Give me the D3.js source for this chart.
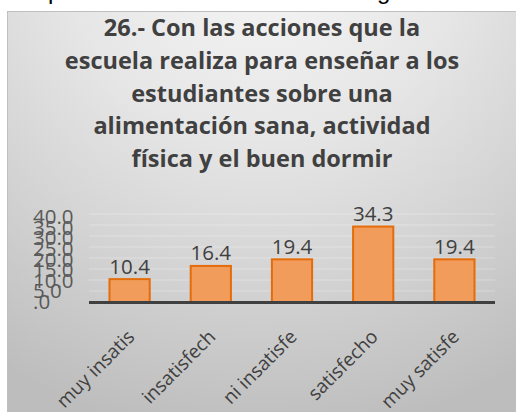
<!DOCTYPE html>
<html>
<head>
<meta charset="utf-8">
<script src="https://cdn.jsdelivr.net/npm/d3@7"></script>
<style>
  body { margin: 0; background: #fff; }
  svg { display: block; }
</style>
</head>
<body>
<div id="chart"></div>
<script>
// chart data
const titleLines = [
    '26.- Con las acciones que la',
    'escuela realiza para enseñar a los',
    'estudiantes sobre una',
    'alimentación sana, actividad',
    'física y el buen dormir'
];
const categories = ['muy insatis', 'insatisfech', 'ni insatisfe', 'satisfecho', 'muy satisfe'];
const values = [10.4, 16.4, 19.4, 34.3, 19.4];
const ticks = [0, 5, 10, 15, 20, 25, 30, 35, 40];

const width = 516, height = 412;

const svg = d3.select('#chart').append('svg')
    .attr('width', width)
    .attr('height', height);

const defs = svg.append('defs');
const grad = defs.append('radialGradient')
    .attr('id', 'bg')
    .attr('gradientUnits', 'userSpaceOnUse')
    .attr('cx', 262).attr('cy', -60)
    .attr('r', 500);
grad.append('stop').attr('offset', '0%').attr('stop-color', '#f7f7f7');
grad.append('stop').attr('offset', '40%').attr('stop-color', '#e6e6e6');
grad.append('stop').attr('offset', '70%').attr('stop-color', '#d2d2d2');
grad.append('stop').attr('offset', '100%').attr('stop-color', '#bdbdbd');

// cut-off text line of the document above the chart
svg.append('text')
    .attr('x', 48).attr('y', -1)
    .attr('font-family', 'Liberation Sans, sans-serif')
    .attr('font-size', 24)
    .attr('fill', '#000')
    .text('p');
svg.append('text')
    .attr('x', 377).attr('y', -1)
    .attr('font-family', 'Liberation Sans, sans-serif')
    .attr('font-size', 24)
    .attr('fill', '#000')
    .text('g');

// chart area
svg.append('rect')
    .attr('x', 7.5).attr('y', 11.5)
    .attr('width', width).attr('height', height)
    .attr('fill', 'url(#bg)')
    .attr('stroke', '#bfbfbf')
    .attr('stroke-width', 1);

// title
svg.append('g')
    .selectAll('text')
    .data(titleLines)
    .join('text')
    .attr('x', 262)
    .attr('y', (d, i) => 36 + i * 32.8)
    .attr('text-anchor', 'middle')
    .attr('font-family', 'Open Sans, sans-serif')
    .attr('font-weight', 'bold')
    .attr('font-size', 23.5)
    .attr('fill', '#404040')
    .text(d => d);

// scales
const x = d3.scaleBand()
    .domain(categories)
    .range([89, 495])
    .paddingInner(0.48)
    .paddingOuter(0.24);

const y = d3.scaleLinear()
    .domain([0, 40])
    .range([302, 214]);

// the value labels on the axis are squeezed tighter than the bars
const yLabel = d3.scaleLinear()
    .domain([0, 40])
    .range([309, 224]);

// faint gridlines
svg.append('g')
    .selectAll('line')
    .data(ticks.slice(1))
    .join('line')
    .attr('x1', 89).attr('x2', 495)
    .attr('y1', d => y(d)).attr('y2', d => y(d))
    .attr('stroke', '#ffffff')
    .attr('stroke-opacity', 0.3)
    .attr('stroke-width', 1);

// y tick labels
svg.append('g')
    .selectAll('text')
    .data(ticks)
    .join('text')
    .attr('x', 33)
    .attr('y', d => yLabel(d))
    .attr('font-family', 'Open Sans, sans-serif')
    .attr('font-size', 20.5)
    .attr('fill', '#595959')
    .text(d => d === 0 ? '.0' : d.toFixed(1));

// bars
svg.append('g')
    .selectAll('rect')
    .data(values)
    .join('rect')
    .attr('x', (d, i) => x(categories[i]) + 1)
    .attr('y', d => y(d))
    .attr('width', x.bandwidth() - 2)
    .attr('height', d => y(0) - y(d))
    .attr('fill', '#f19c5a')
    .attr('stroke', '#e46c0a')
    .attr('stroke-width', 2);

// axis line
svg.append('line')
    .attr('x1', 89).attr('x2', 495)
    .attr('y1', y(0) + 0.5).attr('y2', y(0) + 0.5)
    .attr('stroke', '#404040')
    .attr('stroke-width', 3);

// value labels
svg.append('g')
    .selectAll('text')
    .data(values)
    .join('text')
    .attr('x', (d, i) => x(categories[i]) + x.bandwidth() / 2)
    .attr('y', d => y(d) - 5.5)
    .attr('text-anchor', 'middle')
    .attr('font-family', 'Open Sans, sans-serif')
    .attr('font-size', 20.5)
    .attr('fill', '#404040')
    .text(d => d.toFixed(1));

// category labels, rotated
svg.append('g')
    .selectAll('text')
    .data(categories)
    .join('text')
    .attr('transform', d => `translate(${x(d) + x.bandwidth() / 2 + 6},${338}) rotate(-45)`)
    .attr('text-anchor', 'end')
    .attr('font-family', 'Open Sans, sans-serif')
    .attr('font-size', 19)
    .attr('fill', '#404040')
    .text(d => d);
</script>
</body>
</html>
